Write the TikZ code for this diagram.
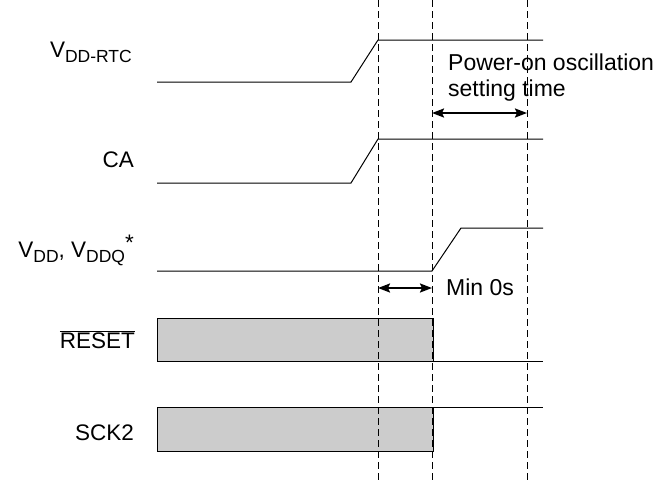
\documentclass[tikz,border=0pt]{standalone}
\usepackage{fontspec}
\setmainfont{Liberation Sans}
\usetikzlibrary{positioning,arrows.meta}

\newcommand{\lo}[1]{\raisebox{-5pt}{\fontsize{17.5}{17.5}\selectfont #1}}

\begin{document}
\begin{tikzpicture}[x=1pt, y=-1pt, >={Stealth[length=12pt,width=9pt,inset=2pt]}]
  \tikzstyle{sig}=[line width=1pt]
  \tikzstyle{guide}=[dash pattern=on 7pt off 4pt, line width=1pt]
  \tikzstyle{lbl}=[anchor=base east, inner sep=0pt, font=\fontsize{22.5}{26}\selectfont]
  \tikzstyle{note}=[anchor=base west, inner sep=0pt, align=left, font=\fontsize{23}{26}\selectfont]
  \tikzstyle{span}=[<->, line width=2pt]
  \tikzstyle{busy}=[draw, fill=black!20, line width=1pt]
  \useasboundingbox (0,0) rectangle (661,480);

  % signal names
  \node[lbl] (rtc) at (132,57) {V\lo{DD-RTC}};
  \node[lbl] (ca) at (134,167) {CA};
  \node[lbl] (vdd) at (134,257) {V\lo{DD}, V\lo{DDQ}\raisebox{7pt}{*}};
  \node[lbl] (rst) at (135,348) {$\overline{\mbox{RESET}}$};
  \node[lbl] (sck) at (134,440) {SCK2};

  % waveforms
  \draw[sig] (157,82) -- (351,82) -- (378,40) -- (543,40);
  \draw[sig] (157,183) -- (351,183) -- (378,139) -- (543,139);
  \draw[sig] (157,271) -- (432,271) -- (461,228) -- (543,228);
  \draw[busy] (157,318) rectangle (433,361);
  \draw[sig] (433,361) -- (543,361);
  \draw[busy] (157,407) rectangle (433,451);
  \draw[sig] (433,407) -- (543,407);

  % timing guides
  \foreach \x in {378,432,527}
    \draw[guide] (\x,0) -- (\x,480);

  % intervals
  \coordinate (osc1) at (432,113);
  \coordinate (osc2) at (527,113);
  \coordinate (min1) at (378,288);
  \coordinate (min2) at (432,288);
  \draw[span] (osc1) -- (osc2);
  \draw[span] (min1) -- (min2);
  \node[note] (osc) at (448,96) {Power-on oscillation\\setting time};
  \node[note] (min) at (446,295) {Min 0s};
\end{tikzpicture}
\end{document}
